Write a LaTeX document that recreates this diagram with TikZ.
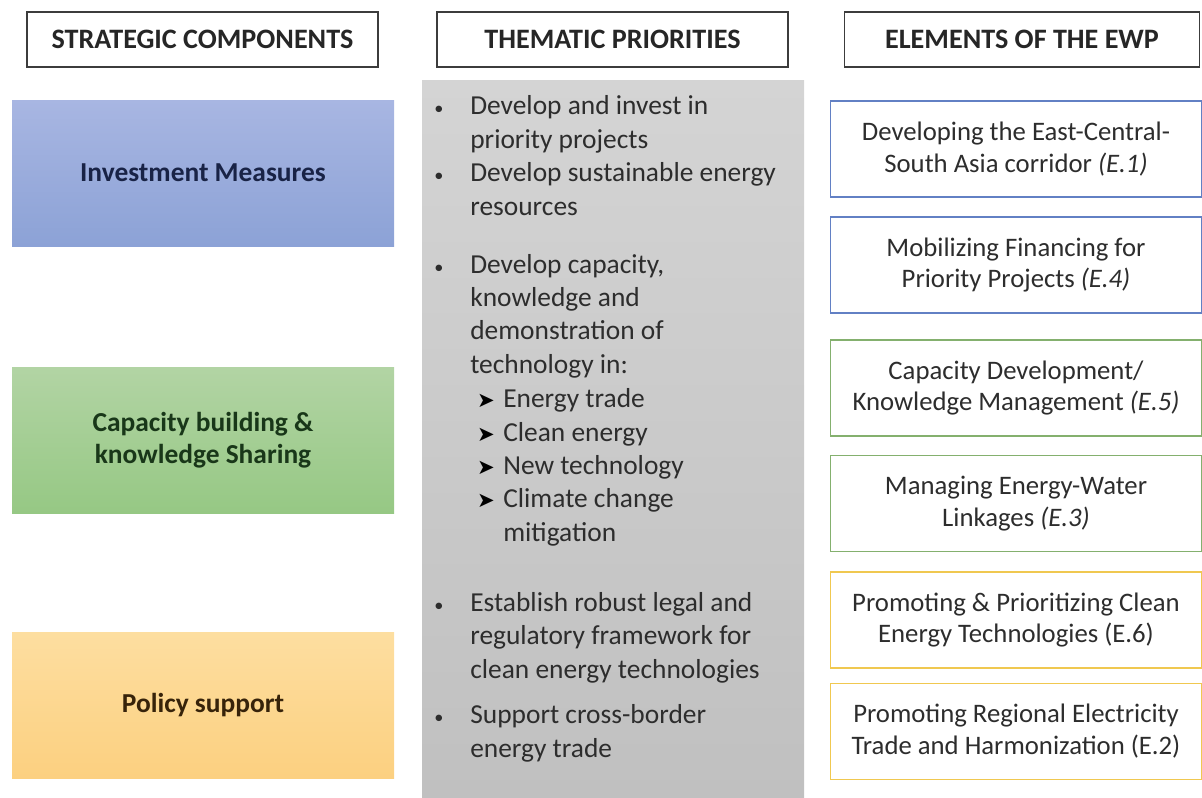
\documentclass[tikz,border=0pt]{standalone}
\usepackage{fontspec}
\setmainfont{Carlito}
\newfontfamily\symfont{DejaVu Sans}
\usepackage{tikz}
\definecolor{hdrline}{RGB}{60,60,60}
\definecolor{txtgrey}{RGB}{45,45,45}
\definecolor{ewpblue}{RGB}{98,128,196}
\definecolor{ewpgreen}{RGB}{132,176,110}
\definecolor{ewpyellow}{RGB}{240,200,80}
\newcommand{\bul}{\llap{{\fontsize{13}{13}\selectfont\textbullet}\hspace{19pt}}}
\newcommand{\arr}{\llap{{\symfont\fontsize{15}{15}\selectfont\color{black}➤}\hspace{6pt}}}
\tikzset{
    basefont/.style={font=\fontsize{19.5}{23.6}\selectfont},
    header/.style={draw=hdrline, line width=1.3pt, fill=white, minimum width=#1,
        minimum height=55*0.025cm, font=\bfseries\fontsize{20}{22}\selectfont, text=black!85},
    compbox/.style={minimum width=382*0.025cm, minimum height=146*0.025cm, align=center,
        font=\bfseries\fontsize{19.5}{23}\selectfont},
    % base = baseline of the last line
    theme/.style={basefont, anchor=base west, align=left, inner sep=0pt, text=txtgrey},
    ewpbox/.style={draw=#1, line width=1.2pt, fill=white, minimum width=371*0.025cm,
        minimum height=96*0.025cm, align=center, text=txtgrey,
        font=\fontsize{19}{22.7}\selectfont},
}
\begin{document}
\begin{tikzpicture}[x=0.025cm, y=-0.025cm]
    \useasboundingbox (0,0) rectangle (1202,797);
    % column headers
    \node[header=351*0.025cm] (hcomp) at (202.5,39.5) {STRATEGIC COMPONENTS};
    \node[header=351*0.025cm] (htheme) at (612.5,39.5) {THEMATIC PRIORITIES};
    \node[header=355*0.025cm] (hewp) at (1022,39.5) {ELEMENTS OF THE EWP};
    % strategic components
    \node[compbox, top color={rgb,255:red,168;green,182;blue,226}, bottom color={rgb,255:red,140;green,162;blue,214},
        text={rgb,255:red,25;green,35;blue,70}] (invest) at (203,173) {Investment Measures};
    \node[compbox, top color={rgb,255:red,178;green,212;blue,164}, bottom color={rgb,255:red,150;green,200;blue,132},
        text={rgb,255:red,25;green,55;blue,25}] (capac) at (203,440) {Capacity building \&\\knowledge Sharing};
    \node[compbox, top color={rgb,255:red,253;green,222;blue,160}, bottom color={rgb,255:red,252;green,208;blue,128},
        text={rgb,255:red,55;green,35;blue,10}] (policy) at (203,705.5) {Policy support};
    % thematic priorities
    \fill[top color={rgb,255:red,212;green,212;blue,212}, bottom color={rgb,255:red,192;green,192;blue,192}]
        (422,80) rectangle (804,797);
    \node[theme] (t1) at (470,148) {\bul Develop and invest in\\priority projects};
    \node[theme] (t2) at (470,215) {\bul Develop sustainable energy\\resources};
    \node[theme] (t3) at (470,373) {\bul Develop capacity,\\knowledge and\\demonstration of\\technology in:};
    \node[theme] (s1) at (503,407) {\arr Energy trade};
    \node[theme] (s2) at (503,441) {\arr Clean energy};
    \node[theme] (s3) at (503,474) {\arr New technology};
    \node[theme] (s4) at (503,541) {\arr Climate change\\mitigation};
    \node[theme] (t4) at (470,678) {\bul Establish robust legal and\\regulatory framework for\\clean energy technologies};
    \node[theme] (t5) at (470,757) {\bul Support cross-border\\energy trade};
    % elements of the EWP
    \node[ewpbox=ewpblue] (e1) at (1016,149) {Developing the East-Central-\\South Asia corridor \textit{(E.1)}};
    \node[ewpbox=ewpblue] (e4) at (1016,265) {Mobilizing Financing for\\Priority Projects \textit{(E.4)}};
    \node[ewpbox=ewpgreen] (e5) at (1016,388) {Capacity Development/\\Knowledge Management \textit{(E.5)}};
    \node[ewpbox=ewpgreen] (e3) at (1016,503.5) {Managing Energy-Water\\Linkages \textit{(E.3)}};
    \node[ewpbox=ewpyellow] (e6) at (1016,620) {Promoting \& Prioritizing Clean\\Energy Technologies (E.6)};
    \node[ewpbox=ewpyellow] (e2) at (1016,731.5) {Promoting Regional Electricity\\Trade and Harmonization (E.2)};
\end{tikzpicture}
\end{document}
